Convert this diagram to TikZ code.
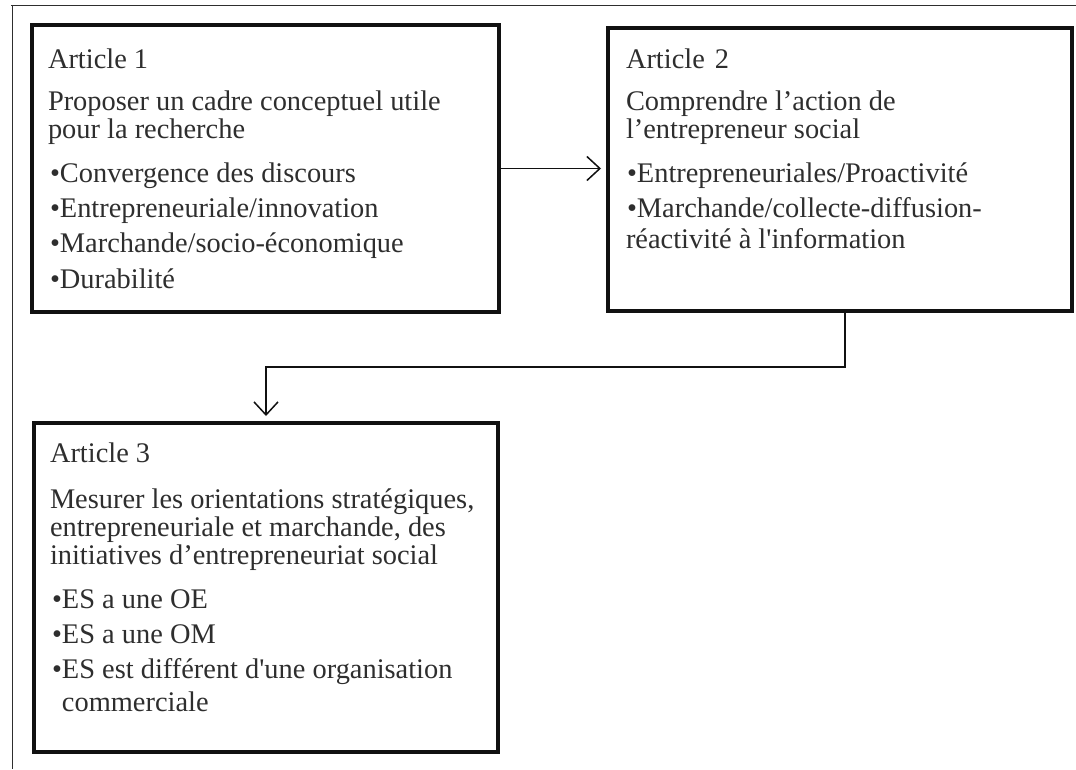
\documentclass[tikz,border=0pt]{standalone}
\usepackage{fontspec}
\setmainfont{Liberation Serif}[Ligatures=TeXOff]
\usetikzlibrary{arrows.meta}

\definecolor{ink}{HTML}{2E2E2E}
\definecolor{rule}{HTML}{111111}

\tikzset{
  article/.style={draw=rule, line width=3.6pt, rectangle, anchor=north west,
    inner sep=0pt, outer sep=0pt},
  txt/.style={anchor=base west, inner sep=0pt, outer sep=0pt, text=ink,
    font=\fontsize{28.4}{28}\selectfont},
  frameline/.style={draw=ink, line width=1.3pt},
  flow/.style={draw=rule, line width=1.5pt,
    -{Straight Barb[length=13pt, width=24pt, line width=1.5pt]}, shorten >=7pt}
}

\begin{document}
\begin{tikzpicture}[x=1pt, y=-1pt]
  \useasboundingbox (0,0) rectangle (1076,769);

  % page frame: only the top and left rules are visible
  \coordinate (ftr) at (1076,5.5);
  \coordinate (ftl) at (11,5.5);
  \coordinate (fbl) at (12.5,769);
  \draw[frameline] (ftr) -- (ftl);
  \draw[frameline] (12.5,5) coordinate (fcorner) -- (fbl);

  % the three article boxes
  \node[article, minimum width=467pt, minimum height=287pt] (a1) at (32,25) {};
  \node[article, minimum width=464pt, minimum height=283pt] (a2) at (608,28) {};
  \node[article, minimum width=464pt, minimum height=329pt] (a3) at (34,423) {};

  % Article 1
  \node[txt] (t1a) at (48,68)  {Article 1};
  \node[txt] (t1b) at (48,110) {Proposer un cadre conceptuel utile};
  \node[txt] (t1c) at (48,138) {pour la recherche};
  \node[txt] (t1d) at (50,182) {•Convergence des discours};
  \node[txt] (t1e) at (50,217) {•Entrepreneuriale/innovation};
  \node[txt] (t1f) at (50,252) {•Marchande/socio-économique};
  \node[txt] (t1g) at (50,288) {•Durabilité};

  % Article 2
  \node[txt] (t2a) at (626,68)  {Article\hspace{3pt} 2};
  \node[txt] (t2b) at (626,110) {Comprendre l’action de};
  \node[txt] (t2c) at (626,138) {l’entrepreneur social};
  \node[txt] (t2d) at (627,182) {•Entrepreneuriales/Proactivité};
  \node[txt] (t2e) at (627,217) {•Marchande/collecte-diffusion-};
  \node[txt] (t2f) at (626,248) {réactivité à l'information};

  % Article 3
  \node[txt] (t3a) at (50,462) {Article 3};
  \node[txt] (t3b) at (50,508) {Mesurer les orientations stratégiques,};
  \node[txt] (t3c) at (50,536) {entrepreneuriale et marchande, des};
  \node[txt] (t3d) at (50,564) {initiatives d’entrepreneuriat social};
  \node[txt] (t3e) at (52,608) {•ES a une OE};
  \node[txt] (t3f) at (52,643) {•ES a une OM};
  \node[txt] (t3g) at (52,678) {•ES est différent d'une organisation};
  \node[txt] (t3h) at (52,711) {\hphantom{•}commerciale};

  % connectors
  \draw[flow] (a1.east) -- (a1.east -| a2.west);
  \coordinate (bend) at ([xshift=5pt]a2.south |- 0,367);
  \draw[flow] ([xshift=5pt]a2.south) -- (bend) -| (a3.north);
\end{tikzpicture}
\end{document}
